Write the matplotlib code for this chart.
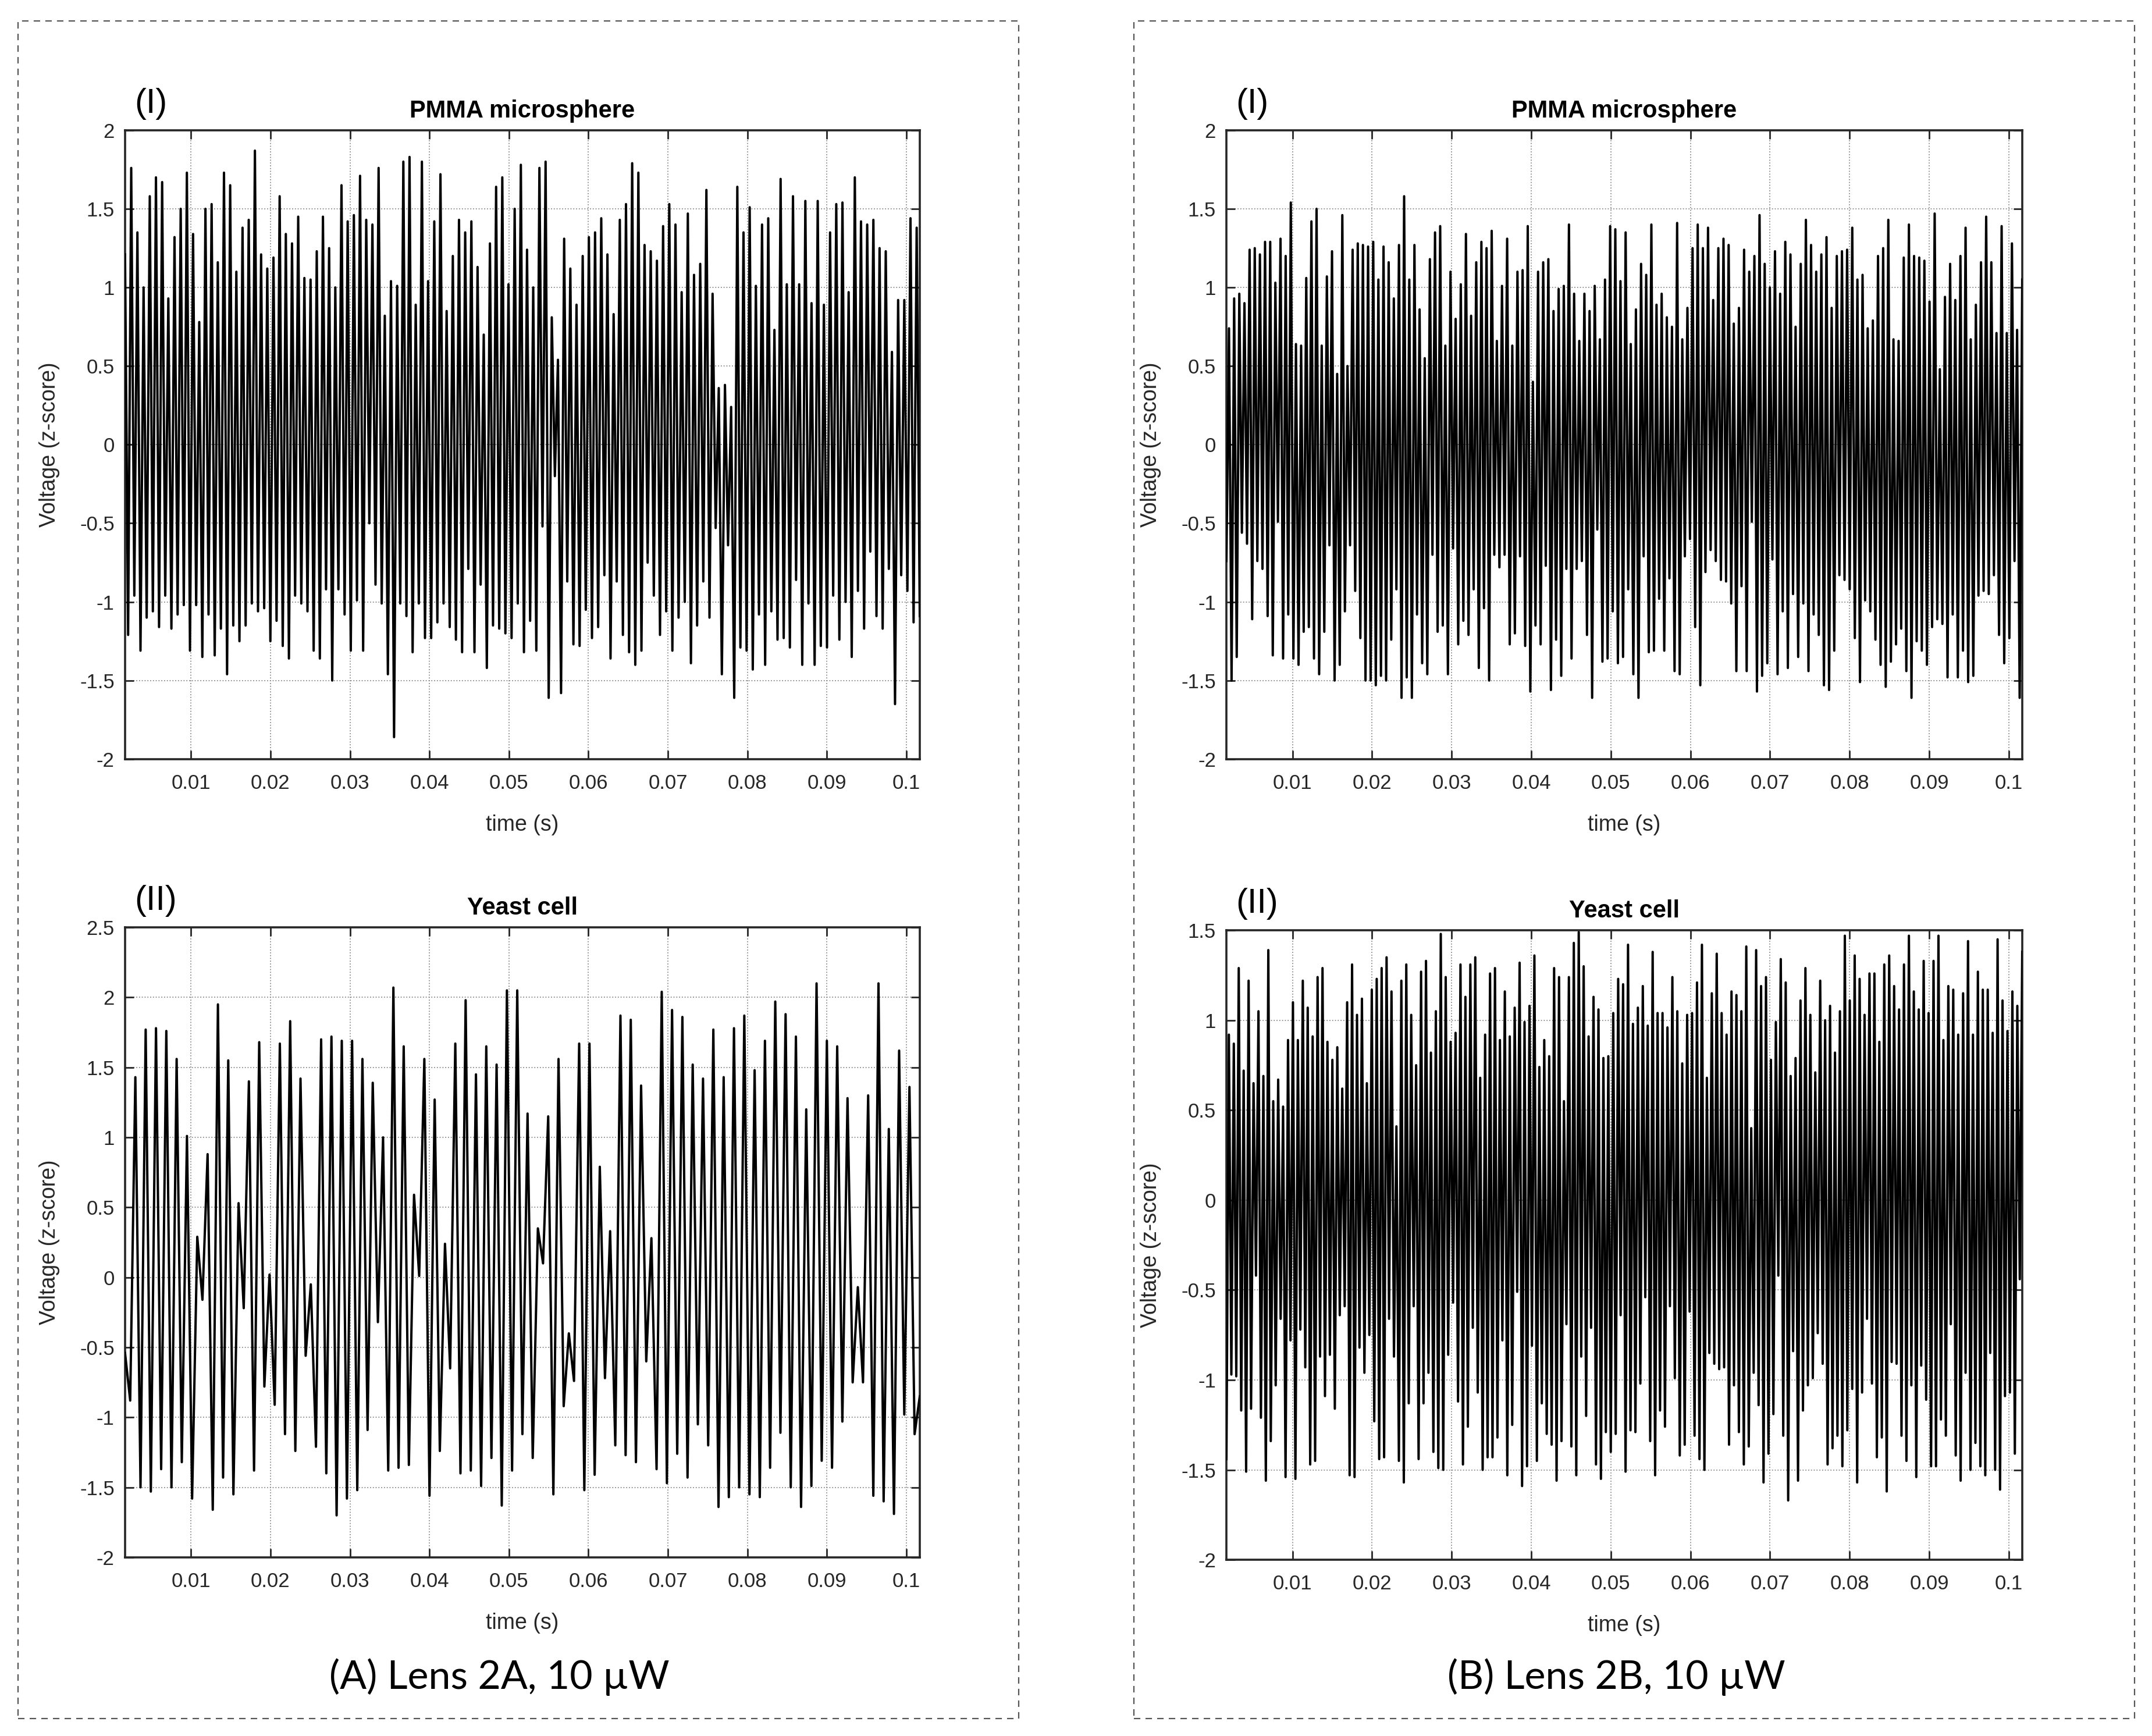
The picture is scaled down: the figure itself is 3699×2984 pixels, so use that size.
import matplotlib
matplotlib.use("Agg")
import matplotlib.pyplot as plt
import numpy as np
from matplotlib.patches import Rectangle

# peak / trough values, in time order
pmma_a_peaks = [1.21, 1.76, 1.35, 1.00, 1.58, 1.70, 1.67, 0.93, 1.32, 1.50, 1.73, 1.34, 0.78, 1.50, 1.53,
                1.16, 1.73, 1.65, 1.10, 1.38, 1.43, 1.87, 1.21, 1.12, 1.19, 1.58, 1.34, 1.28, 1.45, 1.06,
                1.05, 1.23, 1.45, 1.25, 1.00, 1.65, 1.42, 1.46, 1.71, 1.43, 1.40, 1.76, 0.82, 1.04, 1.01,
                1.80, 1.83, 0.89, 1.80, 1.04, 1.42, 1.72, 0.85, 1.20, 1.43, 1.35, 1.42, 1.13, 0.70, 1.28,
                1.64, 1.70, 1.02, 1.50,
                1.78, 1.24, 1.00, 1.76, 1.80, 0.81, 0.54, 1.31, 1.12, 0.89, 1.20, 1.32, 1.35, 1.44, 1.21,
                0.83, 1.43, 1.53, 1.79, 1.73, 1.27, 1.23, 1.17, 1.39, 1.53, 1.40, 0.97, 1.47, 1.08, 1.15,
                1.62, 0.96, 0.36, 0.38, 0.24, 1.64, 1.35, 1.51, 1.01, 1.40, 1.44, 0.73, 1.69, 1.02, 1.58,
                1.02, 1.55, 0.90, 1.55, 0.89, 1.35, 1.53, 1.54, 0.97, 1.70, 1.42, 1.40, 1.43, 1.25, 1.23,
                0.59, 0.92, 0.92, 1.44, 1.38, 1.46, 1.48, 1.24]
pmma_a_troughs = [-1.21, -0.96, -1.31, -1.10, -1.06, -1.16, -0.96, -1.17, -1.08, -1.02, -1.31, -1.02, -1.35,
                  -1.08, -1.34, -1.17, -1.46, -1.15, -1.25, -1.15, -1.01, -1.06, -1.04, -1.25, -1.12, -1.28,
                  -1.36, -0.96, -1.01, -1.06, -1.31, -1.36, -0.92, -1.50, -0.92, -1.08, -1.31, -0.99, -1.31,
                  -0.50, -0.89, -1.01, -1.46, -1.86, -1.01, -1.09, -1.32, -1.01, -1.23, -1.23, -1.13, -1.01,
                  -1.16, -1.24, -1.32, -0.79, -1.32, -0.89, -1.42, -1.15, -1.17, -1.20, -1.23,
                  -1.01, -1.32, -1.12, -1.31, -0.52, -1.61, -0.20, -1.58, -0.87, -1.27, -1.28, -1.05, -1.23,
                  -1.16, -0.83, -1.36, -0.87, -1.21, -1.32, -1.40, -1.31, -0.75, -0.96, -1.21, -1.06, -1.31,
                  -1.10, -1.00, -1.39, -1.15, -0.87, -1.10, -0.53, -1.46, -0.64, -1.61, -1.29, -1.31, -1.43,
                  -1.08, -1.40, -1.06, -1.24, -1.23, -1.29, -0.86, -1.40, -1.01, -1.40, -1.28, -1.29, -0.96,
                  -1.24, -1.00, -1.35, -0.93, -1.17, -0.68, -1.09, -1.17, -0.79, -1.65, -0.83, -0.93, -1.13,
                  -1.09]

yeast_a_extrema = [-0.54, -0.88, 1.43, -1.50, 1.77, -1.53, 1.78, -1.37, 1.76, -1.50, 1.56, -1.32, 1.01, -1.58,
                   0.29, -0.16, 0.88, -1.66, 1.95, -1.43, 1.55, -1.55, 0.53, -0.22, 1.40, -1.38, 1.68, -0.78,
                   0.02, -0.91, 1.67, -1.12, 1.83, -1.24, 1.42, -0.56, -0.05, -1.21, 1.70, -1.40, 1.72, -1.70,
                   1.69, -1.58, 1.69, -1.52, 1.56, -1.09, 1.39, -0.32, 1.00, -1.38, 2.07, -1.36, 1.65, -1.34,
                   0.59, 0.01, 1.56, -1.56, 1.27, -1.24, 0.24, -0.65, 1.67, -1.40, 1.98, -1.38, 1.45, -1.49,
                   1.65, -1.29, 1.52, -1.63, 2.05, -1.38, 2.05, -1.12, 1.17, -1.29,
                   0.35, 0.10, 1.15, -1.55, 1.56, -0.92, -0.40, -0.74, 1.67, -1.52, 1.67, -1.41, 0.79, -0.72,
                   0.33, -1.20, 1.87, -1.27, 1.84, -1.32, 1.37, -0.60, 0.28, -1.37, 2.04, -1.47, 1.91, -1.26,
                   1.86, -1.43, 1.52, -1.05, 1.42, -1.20, 1.77, -1.64, 1.43, -1.57, 1.78, -1.50, 1.87, -1.55,
                   1.48, -1.57, 1.69, -1.36, 1.97, -1.11, 1.88, -1.50, 1.72, -1.64, 1.20, -1.49, 2.10, -1.31,
                   1.69, -1.36, 1.65, -1.03, 1.28, -0.75, -0.07, -0.75, 1.30, -1.56, 2.10, -1.60, 1.06, -1.69,
                   1.62, -0.98, 1.36, -1.12, -0.85]

pmma_b_peaks = [0.74, 0.93, 0.96, 0.90, 1.24, 1.25, 1.21, 1.29, 1.29, 1.03, 1.31, 1.20, 1.54, 0.64, 0.63,
                1.06, 1.42, 1.50, 0.63, 1.07, 1.23, 0.45, 1.46, 0.50, 1.24, 1.28, 1.27, 1.26, 1.29, 1.05,
                1.26, 1.16, 0.93, 1.27, 1.58, 1.05, 1.27, 0.86, 0.55, 1.18, 1.35, 1.39, 0.63, 1.10, 0.80,
                1.02, 1.34, 0.82, 1.16, 1.29, 1.25, 1.36, 0.66, 1.01, 1.31, 0.63, 1.10, 1.11, 1.39, 0.40,
                1.10, 1.16, 1.18, 0.85, 0.99, 1.01, 1.40, 0.96, 0.66, 0.96, 0.85, 1.01, 0.67, 1.05, 1.39,
                1.37, 1.04, 1.35, 0.64, 0.86, 1.15, 1.08, 1.40,
                0.89, 0.96, 0.81, 0.75, 1.41, 0.67, 0.87, 1.25, 1.40, 1.25, 1.38, 0.92, 1.25, 1.31, 1.27,
                0.77, 0.87, 1.24, 1.10, 1.20, 1.46, 1.15, 1.00, 1.23, 0.96, 1.29, 1.21, 0.75, 1.15, 1.43,
                1.27, 1.10, 1.21, 1.32, 0.87, 1.20, 1.23, 1.24, 1.38, 1.05, 1.08, 0.74, 0.79, 1.20, 1.25,
                1.43, 0.67, 0.66, 1.19, 1.40, 1.20, 1.19, 1.17, 0.91, 1.47, 0.48, 0.94, 1.15, 0.92, 1.20,
                1.38, 0.67, 0.89, 1.16, 1.45, 1.16, 0.71, 1.39, 0.71, 1.28, 0.73, 1.05, 1.04, 1.13, 1.24,
                1.17, 1.38, 0.86, 1.32, 1.16]
pmma_b_troughs = [-0.74, -1.50, -1.35, -0.56, -0.63, -1.11, -0.74, -0.79, -1.09, -1.34, -0.49, -1.36, -1.08,
                  -1.36, -1.40, -1.19, -1.16, -1.36, -1.46, -1.19, -0.64, -1.50, -1.40, -1.06, -0.64, -0.93,
                  -1.23, -1.50, -1.50, -1.53, -1.47, -1.50, -1.24, -0.92, -1.61, -1.48, -1.61, -1.08, -1.39,
                  -1.46, -0.70, -1.19, -1.15, -1.46, -0.66, -1.27, -1.12, -1.21, -0.92, -1.42, -1.04, -1.50,
                  -0.70, -0.78, -0.70, -1.27, -1.20, -0.71, -1.28, -1.57, -1.15, -1.27, -0.77, -1.56, -1.24,
                  -1.47, -0.79, -1.36, -0.79, -0.74, -1.21, -1.61, -0.54, -1.38, -1.36, -1.06, -1.39,
                  -1.35, -0.92, -1.46, -1.61, -0.71, -1.32, -1.31, -0.98, -1.31, -0.85, -1.44, -1.46, -0.71,
                  -0.60, -1.16, -1.53, -0.81, -0.67, -0.74, -0.86, -0.87, -1.01, -1.44, -0.90, -1.44, -0.49,
                  -1.57, -1.47, -1.39, -0.73, -1.46, -1.06, -1.42, -0.95, -1.35, -1.01, -1.44, -1.08, -1.21,
                  -1.53, -1.56, -1.31, -0.83, -0.86, -0.92, -1.23, -1.51, -0.99, -1.06, -1.24, -1.40, -1.54,
                  -1.38, -1.27, -1.17, -1.44, -1.61, -1.25, -1.31, -1.40, -1.16, -1.11, -1.14, -1.48, -1.08,
                  -1.48, -1.31, -1.51, -1.47, -0.96, -0.93, -0.95, -0.83, -1.21, -1.39, -1.23, -0.74, -1.61]

yeast_b_peaks = [0.92, 0.87, 1.29, 0.72, 1.22, 0.65, 1.05, 0.69, 1.39, 0.55, 0.67, 0.52, 0.89, 1.10, 0.89,
                 1.22, 1.07, 0.91, 1.24, 1.29, 0.88, 0.78, 0.85, 0.62, 1.10, 1.31, 1.03, 1.12, 0.65, 1.17,
                 1.23, 1.29, 1.35, 1.16, 0.41, 1.22, 1.31, 1.03, 0.75, 1.27, 1.33, 0.82, 1.05, 1.48, 1.24,
                 0.88, 0.93, 1.31, 1.13, 1.31, 1.35, 0.68, 0.92, 1.26, 1.29, 0.89, 1.16, 0.91, 1.07, 1.32,
                 0.99, 1.08, 1.36, 0.74, 0.89, 0.80, 1.29, 1.24, 0.55, 1.24, 1.43, 1.49, 1.30, 0.91, 1.13,
                 1.06, 0.79, 0.80, 1.04, 1.23, 1.20, 1.42, 0.98, 1.07, 1.19, 0.97, 1.38, 1.04, 1.04,
                 0.96, 1.24, 1.05, 0.76, 1.03, 1.04, 1.21, 1.42, 0.68, 1.15, 1.37, 1.04, 0.92, 1.16, 1.14,
                 1.05, 1.41, 0.40, 1.39, 1.19, 1.24, 0.78, 0.99, 1.34, 1.21, 0.69, 0.79, 1.11, 1.29, 1.03,
                 0.71, 1.22, 1.00, 1.08, 0.82, 1.05, 1.47, 1.11, 1.36, 1.23, 1.03, 1.26, 1.26, 0.88, 1.31,
                 1.36, 1.19, 1.06, 1.31, 1.47, 1.16, 1.06, 1.33, 1.04, 1.33, 1.47, 0.89, 1.19, 1.17, 0.92,
                 1.15, 1.44, 0.92, 1.27, 1.17, 1.17, 0.93, 1.45, 1.11, 0.94, 1.16, 1.08, 1.38, 1.27, 1.03,
                 1.42, 1.08, 0.87, 0.75, 1.18, 1.35, 0.54]
yeast_b_troughs = [-1.44, -0.97, -0.98, -1.17, -1.51, -1.16, -0.42, -1.21, -1.56, -1.34, -1.03, -0.66, -1.54,
                   -0.78, -1.55, -0.72, -0.93, -1.47, -1.45, -0.87, -1.09, -0.86, -1.16, -0.64, -0.59, -1.53,
                   -1.54, -0.82, -0.96, -0.75, -1.23, -1.44, -1.43, -0.66, -0.87, -1.45, -1.57, -1.13, -0.59,
                   -1.44, -1.13, -0.96, -1.40, -1.49, -1.50, -0.86, -0.57, -1.12, -1.47, -1.26, -0.71, -1.07,
                   -1.50, -1.43, -1.43, -1.32, -0.78, -1.53, -1.25, -0.51, -1.59, -1.48, -0.81, -1.45, -1.13,
                   -1.30, -1.36, -1.56, -1.34, -0.69, -1.37, -1.53, -0.87, -1.20, -0.71, -1.47, -1.55, -1.29,
                   -1.40, -1.30, -0.64, -1.51, -1.28, -1.29,
                   -1.02, -0.54, -1.34, -1.53, -1.17, -1.26, -0.59, -0.99, -1.42, -1.36, -0.62, -1.31, -1.44,
                   -1.50, -0.85, -0.91, -0.94, -0.93, -1.36, -1.03, -1.29, -1.47, -1.37, -0.96, -1.14, -1.57,
                   -1.41, -1.19, -0.42, -1.31, -1.67, -0.84, -1.56, -1.17, -1.03, -0.99, -0.74, -0.91, -1.47,
                   -1.38, -1.31, -1.48, -1.28, -1.05, -1.57, -1.07, -0.66, -1.02, -1.43, -1.32, -1.62, -0.90,
                   -0.91, -1.31, -1.45, -1.03, -1.54, -0.92, -1.11, -1.48, -1.48, -1.22, -1.31, -0.69, -1.42,
                   -1.56, -0.96, -1.50, -1.35, -1.48, -1.53, -0.85, -1.50, -1.61, -1.09, -1.07, -1.41, -0.44]

t_start, t_end = 0.0017, 0.1017
x_ticks = [0.01, 0.02, 0.03, 0.04, 0.05, 0.06, 0.07, 0.08, 0.09, 0.1]
x_tick_labels = ["0.01", "0.02", "0.03", "0.04", "0.05", "0.06", "0.07", "0.08", "0.09", "0.1"]
y_ticks_pmma = [-2, -1.5, -1, -0.5, 0, 0.5, 1, 1.5, 2]
y_ticks_yeast_a = [-2, -1.5, -1, -0.5, 0, 0.5, 1, 1.5, 2, 2.5]
y_ticks_yeast_b = [-2, -1.5, -1, -0.5, 0, 0.5, 1, 1.5]
titles = ["PMMA microsphere", "Yeast cell"]
tags = ["(I)", "(II)"]
captions = ["(A) Lens 2A, 10 µW", "(B) Lens 2B, 10 µW"]

plt.rcParams['font.family'] = ['Liberation Sans', 'DejaVu Sans']
axis_col = '#262626'


def zigzag(highs, lows, low_first=False):
    n = min(len(highs), len(lows))
    y = np.empty(2 * n)
    first, second = (lows, highs) if low_first else (highs, lows)
    y[0::2] = first[:n]
    y[1::2] = second[:n]
    return y


def draw_trace(ax, y, yticks, title, tag):
    t = np.linspace(t_start, t_end, len(y))
    ax.plot(t, y, color='black', lw=2.9, zorder=3)
    ax.set_xlim(t_start, t_end)
    ax.set_ylim(yticks[0], yticks[-1])
    ax.set_xticks(x_ticks)
    ax.set_xticklabels(x_tick_labels)
    ax.set_yticks(yticks)
    ax.set_yticklabels([f"{v:g}" for v in yticks])
    ax.grid(True, linestyle=':', color='#8a8a8a', linewidth=1.3)
    ax.tick_params(direction='in', length=11, width=2, top=True, right=True,
                   labelsize=25, colors=axis_col)
    ax.tick_params(axis='x', pad=18)
    ax.tick_params(axis='y', pad=13)
    for s in ax.spines.values():
        s.set_linewidth(2.6)
        s.set_color(axis_col)
    ax.set_title(title, fontsize=30, fontweight='bold', pad=16)
    ax.set_xlabel('time (s)', fontsize=27, color=axis_col, va='top')
    ax.xaxis.set_label_coords(0.5, -0.088)
    ax.set_ylabel('Voltage (z-score)', fontsize=27, color=axis_col)
    ax.yaxis.set_label_coords(-0.082, 0.5)
    ax.text(0.012, 1.028, tag, transform=ax.transAxes, fontsize=43, va='baseline')


fig = plt.figure(figsize=(36.99, 29.84), dpi=100)

axA1 = fig.add_axes([0.0581, 0.5627, 0.3693, 0.3623])
axA2 = fig.add_axes([0.0581, 0.1029, 0.3693, 0.3629])
axB1 = fig.add_axes([0.5699, 0.5627, 0.3698, 0.3623])
axB2 = fig.add_axes([0.5699, 0.1015, 0.3698, 0.3626])

draw_trace(axA1, zigzag(pmma_a_peaks, pmma_a_troughs), y_ticks_pmma, titles[0], tags[0])
draw_trace(axA2, np.array(yeast_a_extrema), y_ticks_yeast_a, titles[1], tags[1])
draw_trace(axB1, zigzag(pmma_b_peaks, pmma_b_troughs, low_first=True), y_ticks_pmma, titles[0], tags[0])
draw_trace(axB2, zigzag(yeast_b_peaks, yeast_b_troughs, low_first=True), y_ticks_yeast_b, titles[1], tags[1])

# dashed frames round each column
for x0 in [0.0084, 0.5269]:
    fig.add_artist(Rectangle((x0, 0.0101), 0.465, 0.978, transform=fig.transFigure, fill=False,
                             edgecolor='#555555', lw=1.6, linestyle=(0, (5, 4))))

fig.text(0.232, 0.034, captions[0], ha='center', va='center', fontsize=49, family=['Lato', 'DejaVu Sans'])
fig.text(0.751, 0.034, captions[1], ha='center', va='center', fontsize=49, family=['Lato', 'DejaVu Sans'])

fig.savefig('out.png', dpi=100)
